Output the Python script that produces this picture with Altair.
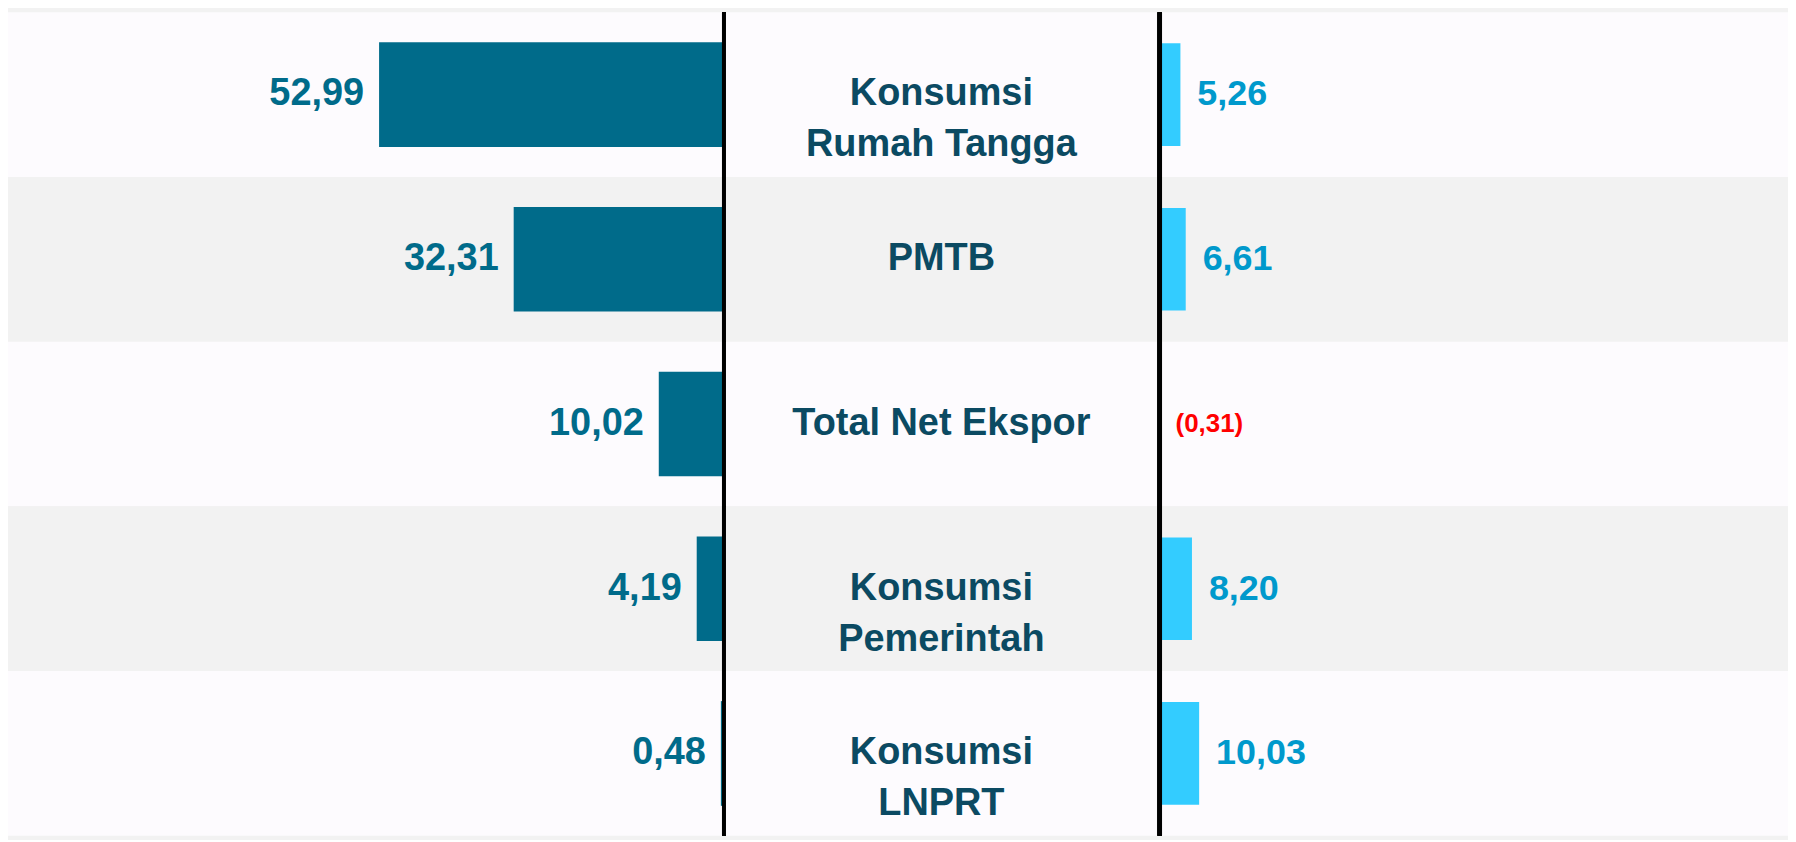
import altair as alt
import pandas as pd

categories = ["Konsumsi Rumah Tangga", "PMTB", "Total Net Ekspor", "Konsumsi Pemerintah", "Konsumsi LNPRT"]
label_text = ["Konsumsi\nRumah Tangga", "PMTB", "Total Net Ekspor", "Konsumsi\nPemerintah", "Konsumsi\nLNPRT"]
share = [52.99, 32.31, 10.02, 4.19, 0.48]
growth = [5.26, 6.61, -0.31, 8.20, 10.03]
band_fill = ["#fdfbfe", "#f2f2f2", "#fdfbfe", "#f2f2f2", "#fdfbfe"]


def id_fmt(v):
    return f"{abs(v):.2f}".replace(".", ",")


share_lbl = [id_fmt(v) for v in share]
growth_lbl = [id_fmt(v) if v >= 0 else "(" + id_fmt(v) + ")" for v in growth]
growth_col = ["#0099cc" if v >= 0 else "#ff0000" for v in growth]
growth_fs = [36 if v >= 0 else 26 for v in growth]

df = pd.DataFrame({"cat": categories, "label": label_text, "share": share,
                   "growth": growth, "band": band_fill, "share_lbl": share_lbl,
                   "growth_lbl": growth_lbl, "gcol": growth_col, "gfs": growth_fs})

FONT = "Liberation Sans"
H = 826
WL, WC, WR = 718, 432, 630

Y = alt.Y("cat:N", sort=categories, axis=None,
          scale=alt.Scale(paddingInner=0, paddingOuter=0))

base = alt.Chart(df)
bands = base.mark_rect().encode(y=Y, color=alt.Color("band:N", scale=None))

# ---- left panel
XL = alt.X("share:Q", axis=None, scale=alt.Scale(domain=[0, 102.6], reverse=True))
left_bar = base.mark_bar(size=105, color="#006b8a").encode(x=XL, y=Y)
left_txt = base.mark_text(align="right", baseline="middle", dx=-15, font=FONT,
                          fontSize=38, fontWeight="bold", color="#006b8a").encode(
    x=XL, y=Y, text="share_lbl:N")
left_rule = base.mark_rule(color="#000000", strokeWidth=4).encode(x=alt.datum(0))
left = alt.layer(bands, left_bar, left_txt, left_rule).properties(width=WL, height=H)

# ---- center panel
center_txt = base.mark_text(align="center", baseline="middle", lineBreak="\n", lineHeight=51,
                            font=FONT, fontSize=38, fontWeight="bold",
                            color="#0b4a62").encode(y=Y, text="label:N")
center = alt.layer(bands, center_txt).properties(width=WC, height=H)

# ---- right panel
XR = alt.X("growth:Q", axis=None, scale=alt.Scale(domain=[0, 141.6]))
right_bar = base.mark_bar(size=103, color="#33ccff").encode(x=XR, y=Y)
right_txt = base.mark_text(align="left", baseline="middle", dx=17, font=FONT,
                           fontWeight="bold").encode(
    x=XR, y=Y, text="growth_lbl:N",
    color=alt.Color("gcol:N", scale=None),
    size=alt.Size("gfs:Q", scale=None))
right_rule = base.mark_rule(color="#000000", strokeWidth=4.5).encode(x=alt.datum(0))
right = alt.layer(bands, right_bar, right_txt, right_rule).properties(width=WR, height=H)

chart = alt.hconcat(left, center, right, spacing=0).properties(
    padding=0, background="#f2f2f2"
).configure_view(stroke=None)

chart.save("out.html", embed_options={"renderer": "svg", "actions": False})
